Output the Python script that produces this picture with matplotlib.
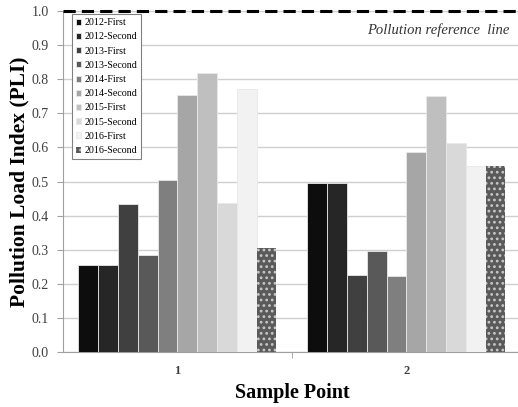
import matplotlib
matplotlib.use("Agg")
import matplotlib.pyplot as plt
import numpy as np

plt.rcParams['font.family'] = ['Liberation Serif', 'DejaVu Serif']
plt.rcParams['hatch.linewidth'] = 1.2

samples = ['1', '2']
series = ['2012-First', '2012-Second', '2013-First', '2013-Second', '2014-First',
          '2014-Second', '2015-First', '2015-Second', '2016-First', '2016-Second']
point1 = [0.255, 0.255, 0.434, 0.285, 0.505, 0.755, 0.818, 0.437, 0.770, 0.304]
point2 = [0.496, 0.496, 0.227, 0.297, 0.224, 0.588, 0.752, 0.614, 0.545, 0.545]
colors = ['#0d0d0d', '#262626', '#404040', '#595959', '#7f7f7f',
          '#a6a6a6', '#bfbfbf', '#d9d9d9', '#f2f2f2', '#5a5a5a']

fig = plt.figure(figsize=(5.18, 4.07), dpi=100)
ax = fig.add_axes([0.1216, 0.135, 0.884, 0.838])

x = np.arange(len(samples))
w = 0.0865
for i, name in enumerate(series):
    vals = [point1[i], point2[i]]
    off = (i - 4.5) * w
    if i == 9:
        ax.bar(x + off, vals, w, color=colors[i], edgecolor='#c8c8c8',
               hatch='...', linewidth=0, label=name, zorder=3)
    else:
        ax.bar(x + off, vals, w, color=colors[i], edgecolor='#e8e8e8',
               linewidth=0.6, label=name, zorder=3)

ax.axhline(1.0, color='black', linestyle=(0, (4, 2)), linewidth=2.2, zorder=4,
           clip_on=False)
ax.text(0.975, 0.945, 'Pollution reference  line', transform=ax.transAxes,
        ha='right', va='center', fontsize=10.5, style='italic', color='#333333')

ax.set_ylim(0, 1.0)
ax.set_xlim(-0.5, 1.5)
ax.set_yticks(np.arange(0, 1.01, 0.1))
ax.set_yticklabels(['%.1f' % v for v in np.arange(0, 1.01, 0.1)])
ax.set_xticks(x)
ax.set_xticklabels(samples, fontweight='bold')
ax.set_xticks([0.5], minor=True)
ax.tick_params(axis='x', which='major', length=0, labelsize=9, colors='#404040', pad=9)
ax.tick_params(axis='x', which='minor', length=4, color='#a0a0a0')
ax.tick_params(axis='y', labelsize=10, colors='#404040', length=4, color='#a0a0a0',
               pad=6)
ax.grid(axis='y', color='#cfcfcf', linewidth=1, zorder=0)
for s in ['top', 'right']:
    ax.spines[s].set_visible(False)
ax.spines['left'].set_color('#a0a0a0')
ax.spines['bottom'].set_color('#a0a0a0')

ax.set_xlabel('Sample Point', fontsize=14.5, fontweight='bold', labelpad=5)
ax.set_ylabel('Pollution Load Index (PLI)', fontsize=15.5, fontweight='bold', labelpad=2)

leg = ax.legend(loc='upper left', bbox_to_anchor=(0.008, 1.005), fontsize=7.2,
                handlelength=0.55, handleheight=0.55, handletextpad=0.3,
                labelspacing=0.52, borderpad=0.4, fancybox=False,
                edgecolor='#808080', framealpha=1)
leg.get_frame().set_linewidth(0.8)
leg.set_zorder(5)

fig.savefig('out.png', dpi=100)
